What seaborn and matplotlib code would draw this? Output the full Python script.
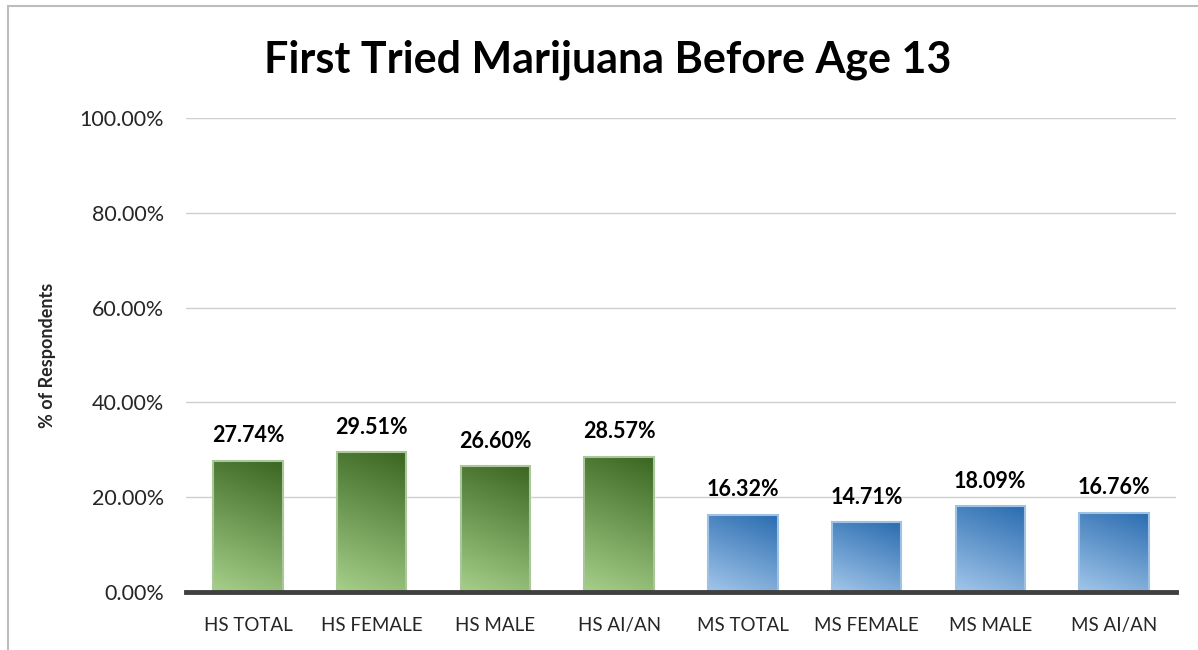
import matplotlib
matplotlib.use("Agg")
import matplotlib.pyplot as plt
import matplotlib.patches as mpatches
from matplotlib.colors import LinearSegmentedColormap
import numpy as np
import pandas as pd
import seaborn as sbn


# -------------------------------------------------------------------------------------------------------
# data
# -------------------------------------------------------------------------------------------------------

categories = ["HS TOTAL", "HS FEMALE", "HS MALE", "HS AI/AN",
              "MS TOTAL", "MS FEMALE", "MS MALE", "MS AI/AN"]
values = [27.74, 29.51, 26.60, 28.57, 16.32, 14.71, 18.09, 16.76]
school = ["HS", "HS", "HS", "HS", "MS", "MS", "MS", "MS"]
y_ticks = [0, 20, 40, 60, 80, 100]

title = "First Tried Marijuana Before Age 13"
y_label = "% of Respondents"

# colours: (light bottom-left, dark top-right, edge)
shades = {"HS": ("#a6d08a", "#3a6621", "#a9c79b"),
          "MS": ("#a2c6ea", "#2a6cb0", "#9fc2e3")}

# -------------------------------------------------------------------------------------------------------
# plot
# -------------------------------------------------------------------------------------------------------

df = pd.DataFrame({"category": categories, "value": values, "school": school})

sbn.set_style("white")
plt.rcParams["font.family"] = ["Lato", "DejaVu Sans"]

fig = plt.figure(figsize=(11.98, 6.5), dpi=100)
ax = fig.add_axes([0.1553, 0.0892, 0.8263, 0.7293])

sbn.barplot(data=df, x="category", y="value", hue="school", dodge=False,
            palette={"HS": shades["HS"][1], "MS": shades["MS"][1]},
            width=0.56, legend=False, ax=ax, zorder=2)

ax.set_xlim(-0.5, len(categories) - 0.5)
ax.set_ylim(0, 100)

# pixel size of one data unit, so the gradient runs mostly bottom -> top on screen
ax_w_px = 0.8263 * 1198
ax_h_px = 0.7293 * 650
px_per_x = ax_w_px / len(categories)
px_per_y = ax_h_px / 100.0
x_weight = 0.4

bars = [p for p in ax.patches if isinstance(p, mpatches.Rectangle) and p.get_height() > 0]
bars = sorted(bars, key=lambda p: p.get_x())
for bar, grp, val in zip(bars, school, values):
    light, dark, edge = shades[grp]
    cmap = LinearSegmentedColormap.from_list(grp, [light, dark])
    x0, y0 = bar.get_x(), bar.get_y()
    w, h = bar.get_width(), bar.get_height()
    wp, hp = w * px_per_x * x_weight, h * px_per_y
    yy, xx = np.mgrid[0:1:120j, 0:1:120j]
    grad = (xx * wp + yy * hp) / (wp + hp)
    im = ax.imshow(grad, cmap=cmap, origin="lower", aspect="auto",
                   extent=[x0, x0 + w, y0, y0 + h], zorder=2.5)
    im.set_clip_path(bar)
    ax.add_patch(mpatches.Rectangle((x0, y0), w, h, fill=False, edgecolor=edge,
                                    linewidth=1.5, zorder=3))
    ax.text(x0 + w / 2, val + 3.0, f"{val:.2f}%", ha="center", va="bottom",
            fontsize=15.5, fontweight="bold", color="black", zorder=4)

ax.set_xlim(-0.5, len(categories) - 0.5)
ax.set_ylim(0, 100)

ax.set_yticks(y_ticks)
ax.set_yticklabels([f"{t:.2f}%" for t in y_ticks], fontsize=15.5)
ax.tick_params(axis="y", length=0, pad=16)
ax.tick_params(axis="x", length=0, pad=18, labelsize=13.5)

ax.grid(True, axis="y", color="#cfcfcf", linewidth=1.0, zorder=0)
ax.set_axisbelow(True)
for s in ["top", "right", "left"]:
    ax.spines[s].set_visible(False)
ax.spines["bottom"].set_color("#404040")
ax.spines["bottom"].set_linewidth(3.5)
ax.spines["bottom"].set_zorder(5)

ax.set_xlabel("")
ax.set_ylabel(y_label, fontsize=13, fontweight="bold", labelpad=17)

fig.suptitle(title, fontsize=31, fontweight="bold", color="black", x=0.507, y=0.94)

# chart frame
fig.add_artist(plt.Line2D([8 / 1198, 8 / 1198], [0, 1 - 6 / 650], color="#bdbdbd",
                          linewidth=1.5, transform=fig.transFigure))
fig.add_artist(plt.Line2D([8 / 1198, 1], [1 - 6 / 650, 1 - 6 / 650], color="#bdbdbd",
                          linewidth=1.5, transform=fig.transFigure))

fig.savefig("out.png", dpi=100)
